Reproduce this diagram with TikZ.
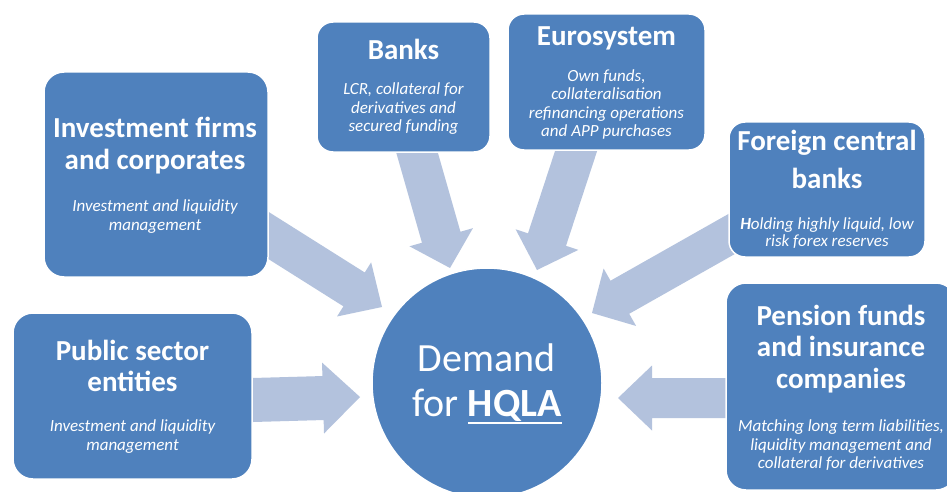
\documentclass[tikz,border=0pt]{standalone}
\usepackage{fontspec}
\setmainfont{Carlito}
\usetikzlibrary{calc}
\definecolor{boxblue}{HTML}{4F81BD}
\definecolor{arrowfill}{RGB}{179,194,221}
% #1 name, #2 tail, #3 tip, #4 shaft half width, #5 head half width, #6 head length
\newcommand\blockarrow[6]{%
  \coordinate (#1-base) at ($(#3)!#6!(#2)$);
  \fill[arrowfill] ($(#2)!#4!90:(#3)$) -- ($(#1-base)!#4!90:(#3)$) -- ($(#1-base)!#5!90:(#3)$)
    -- (#3) -- ($(#1-base)!#5!-90:(#3)$) -- ($(#1-base)!#4!-90:(#3)$) -- ($(#2)!#4!-90:(#3)$) -- cycle;
}
\newcommand\thickul[1]{\setbox0\hbox{#1}\rlap{\raisebox{-7.5pt}{\rule{\wd0}{2.5pt}}}\box0}
\tikzset{
  box/.style={rectangle, rounded corners=16pt, fill=boxblue, draw=white, line width=1.5pt, inner sep=0pt},
  ttl/.style={font=\fontsize{29}{30}\selectfont\bfseries, text=white, anchor=base, inner sep=0pt},
  sub/.style={font=\fontsize{17}{18}\selectfont\itshape, text=white, anchor=base, inner sep=0pt},
  big/.style={font=\fontsize{40}{44}\selectfont, text=white, anchor=base, inner sep=0pt},
}
\begin{document}
\begin{tikzpicture}[x=1pt,y=-1pt]
\useasboundingbox (0,0) rectangle (947,492);
\fill[white] (0,0) rectangle (947,492);
\clip (0,0) rectangle (947,492);

% arrow end points
\coordinate (invT) at (236,215);  \coordinate (invH) at (382,307);
\coordinate (bnkT) at (412,135);  \coordinate (bnkH) at (450,268);
\coordinate (eurT) at (581,136);  \coordinate (eurH) at (537,270);
\coordinate (forT) at (744,227);  \coordinate (forH) at (592,313);
\coordinate (penT) at (740,398);  \coordinate (penH) at (618,398);
\coordinate (pubT) at (235,400.5);\coordinate (pubH) at (360,397);

\blockarrow{a1}{invT}{invH}{20pt}{32pt}{33pt}
\blockarrow{a2}{bnkT}{bnkH}{20pt}{33pt}{32pt}
\blockarrow{a3}{eurT}{eurH}{20pt}{33pt}{32pt}
\blockarrow{a4}{forT}{forH}{19pt}{33pt}{32pt}
\blockarrow{a5}{penT}{penH}{20pt}{32.5pt}{34pt}
\blockarrow{a6}{pubT}{pubH}{22pt}{35.5pt}{37pt}

% boxes
\node[box, minimum width=224pt, minimum height=205pt, rounded corners=20pt] (inv) at (156,174.5) {};
\node[box, minimum width=173pt, minimum height=130pt] (bnk) at (403.5,87) {};
\node[box, minimum width=197pt, minimum height=136pt] (eur) at (606.5,82) {};
\node[box, minimum width=196pt, minimum height=135pt] (for) at (827,189.5) {};
\node[box, minimum width=230pt, minimum height=207pt, rounded corners=20pt] (pen) at (841,386.5) {};
\node[box, minimum width=239pt, minimum height=166pt, rounded corners=20pt] (pub) at (132.5,396) {};
\node[circle, fill=boxblue, draw=white, line width=1.5pt, minimum size=230pt, inner sep=0pt] (hqla) at (487,383) {};

% texts
\node[ttl] (inv1) at (155,137.7) {Investment firms};
\node[ttl] (inv2) at (155,169.3) {and corporates};
\node[sub] (inv3) at (155,211.7) {Investment and liquidity};
\node[sub] (inv4) at (155,230) {management};

\node[ttl] (bnk1) at (403.5,60) {Banks};
\node[sub] (bnk2) at (403.5,95) {LCR, collateral for};
\node[sub] (bnk3) at (403.5,113.3) {derivatives and};
\node[sub] (bnk4) at (403.5,131.7) {secured funding};

\node[ttl] (eur1) at (606.5,46) {Eurosystem};
\node[sub] (eur2) at (606.5,81.7) {Own funds,};
\node[sub] (eur3) at (606.5,99.3) {collateralisation};
\node[sub] (eur4) at (606.5,118.3) {refinancing operations};
\node[sub] (eur5) at (606.5,136.7) {and APP purchases};

\node[ttl] (for1) at (827,150.7) {Foreign central};
\node[ttl] (for2) at (827,188.3) {banks};
\node[sub] (for3) at (827,229.3) {\textbf{H}olding highly liquid, low};
\node[sub] (for4) at (827,246.7) {risk forex reserves};

\node[ttl] (pen1) at (841,325) {Pension funds};
\node[ttl] (pen2) at (841,356.7) {and insurance};
\node[ttl] (pen3) at (841,388.3) {companies};
\node[sub] (pen4) at (841,431.7) {Matching long term liabilities,};
\node[sub] (pen5) at (841,450) {liquidity management and};
\node[sub] (pen6) at (841,468.3) {collateral for derivatives};

\node[ttl] (pub1) at (132.5,360) {Public sector};
\node[ttl] (pub2) at (132.5,391.7) {entities};
\node[sub] (pub3) at (132.5,431.7) {Investment and liquidity};
\node[sub] (pub4) at (132.5,450) {management};

\node[big] (hq1) at (486.5,371.7) {Demand};
\node[big] (hq2) at (487,416.7) {for \thickul{\textbf{HQLA}}};
\end{tikzpicture}
\end{document}
